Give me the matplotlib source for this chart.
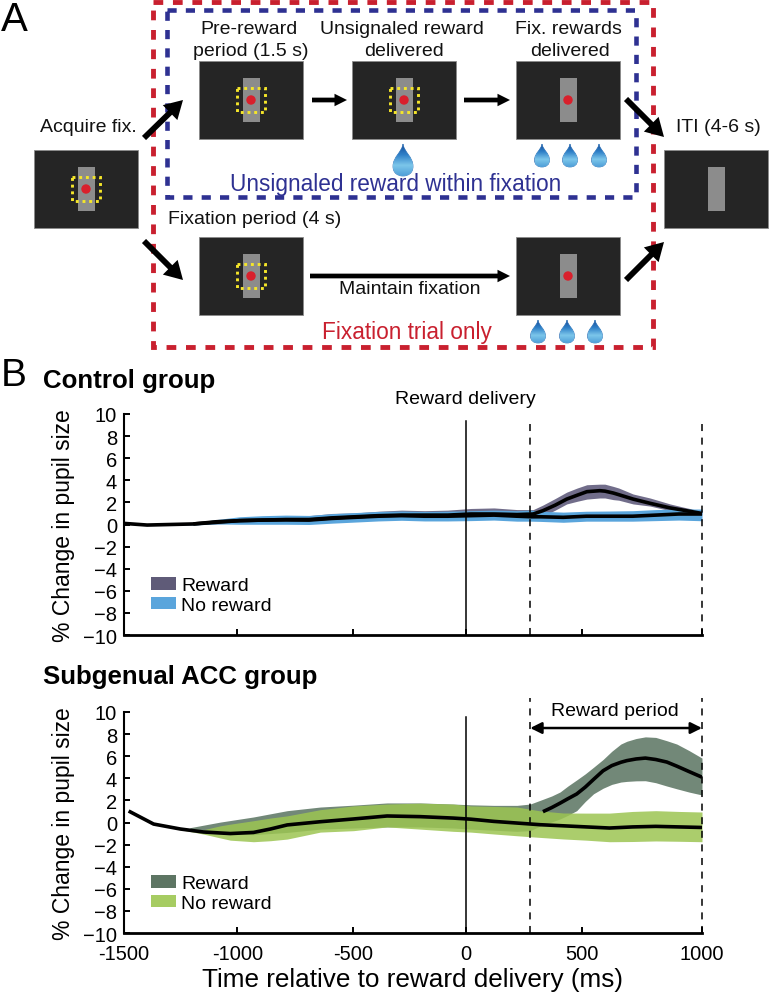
import numpy as np
import matplotlib
matplotlib.use('Agg')
import matplotlib.pyplot as plt
from matplotlib.patches import Rectangle, Circle, Patch, PathPatch
from matplotlib.path import Path
from matplotlib.colors import LinearSegmentedColormap

plt.rcParams['font.family'] = ['Liberation Sans', 'DejaVu Sans']

W, H = 769, 995

# control group, no reward
t_ctrl_nr = [-1500, -1400, -1300, -1200, -1100, -1000, -900, -800, -700, -600, -500, -400, -300, -200, -100,
             0, 100, 200, 260, 300, 400, 500, 600, 700, 800, 900, 1000]
m_ctrl_nr = [0.1, -0.05, 0, 0.05, 0.25, 0.35, 0.4, 0.42, 0.4, 0.55, 0.65, 0.75, 0.8, 0.75, 0.75,
             0.8, 0.85, 0.75, 0.7, 0.7, 0.65, 0.75, 0.75, 0.75, 0.85, 0.95, 0.95]
hi_ctrl_nr = [0.1, -0.03, 0.03, 0.15, 0.45, 0.7, 0.8, 0.85, 0.82, 0.98, 1.08, 1.18, 1.22, 1.18, 1.2,
              1.25, 1.3, 1.25, 1.3, 1.2, 1.12, 1.2, 1.22, 1.25, 1.35, 1.4, 1.4]
lo_ctrl_nr = [0.1, -0.07, -0.03, -0.05, 0.05, 0.02, 0.02, 0.02, 0.0, 0.12, 0.22, 0.32, 0.38, 0.32, 0.32,
              0.35, 0.4, 0.3, 0.3, 0.28, 0.2, 0.3, 0.3, 0.3, 0.35, 0.4, 0.34]

# control group, reward
t_ctrl_r = [-1200, -1100, -1000, -900, -800, -700, -600, -500, -400, -300, -200, -100, 0, 100, 200, 270,
            312, 365, 415, 460, 502, 558, 580, 616, 640, 702, 775, 862, 918, 1000]
m_ctrl_r = [0.05, 0.2, 0.35, 0.4, 0.45, 0.45, 0.6, 0.7, 0.8, 0.85, 0.85, 0.85, 0.95, 0.95, 0.9, 0.95,
            1.25, 1.75, 2.3, 2.65, 2.97, 3.06, 3.02, 2.85, 2.7, 2.3, 1.92, 1.5, 1.3, 1.0]
hi_ctrl_r = [0.1, 0.4, 0.55, 0.65, 0.7, 0.8, 1.0, 1.05, 1.2, 1.3, 1.25, 1.3, 1.45, 1.5, 1.35, 1.35,
             1.76, 2.35, 2.93, 3.3, 3.6, 3.65, 3.65, 3.45, 3.3, 2.76, 2.4, 1.86, 1.58, 1.2]
lo_ctrl_r = [0, 0.05, 0.15, 0.2, 0.2, 0.2, 0.35, 0.4, 0.45, 0.45, 0.45, 0.45, 0.5, 0.5, 0.45, 0.5,
             0.75, 1.3, 1.86, 2.1, 2.3, 2.4, 2.4, 2.25, 2.2, 1.86, 1.67, 1.25, 1.1, 0.85]

# subgenual ACC group, no reward
t_acc_nr = [-1480, -1372, -1256, -1156, -1083, -1040, -940, -867, -794, -651, -507, -362, -219, -76,
            0, 100, 200, 300, 400, 500, 600, 700, 800, 900, 1000]
m_acc_nr = [1.04, -0.14, -0.59, -0.86, -0.95, -1.0, -0.9, -0.59, -0.22, 0.07, 0.32, 0.59, 0.53, 0.4,
            0.3, 0.1, -0.05, -0.2, -0.3, -0.4, -0.5, -0.4, -0.35, -0.4, -0.45]
hi_acc_nr = [1.04, -0.14, -0.55, -0.65, -0.3, -0.15, 0.16, 0.4, 0.6, 1.16, 1.5, 1.67, 1.75, 1.67,
             1.5, 1.45, 1.4, 1.05, 0.86, 0.85, 0.85, 1.0, 1.07, 1.0, 0.95]
lo_acc_nr = [1.04, -0.14, -0.65, -1.05, -1.4, -1.6, -1.74, -1.65, -1.5, -0.87, -0.74, -0.4, -0.6, -0.8,
             -0.87, -1.04, -1.2, -1.35, -1.49, -1.6, -1.74, -1.72, -1.67, -1.7, -1.74]

# subgenual ACC group, reward (line hidden under the no reward band before 312)
t_acc_r = [-1215, -1083, -940, -794, -651, -507, -362, -219, -76, 0, 100, 200, 257,
           312, 350, 386, 420, 458, 495, 531, 572, 610, 649, 675, 715, 755, 800, 848, 891, 945, 1000]
m_acc_r = [np.nan] * 13 + [0.98, 1.35, 1.75, 2.15, 2.58, 3.2, 3.9, 4.68, 5.15, 5.45, 5.6, 5.75, 5.83, 5.7,
                           5.47, 5.1, 4.6, 4.1]
hi_acc_r = [-0.47, 0.04, 0.5, 1.07, 1.4, 1.57, 1.77, 1.77, 1.67, 1.6, 1.55, 1.55, 1.67,
            2.1, 2.4, 2.76, 3.3, 3.85, 4.4, 5.0, 5.7, 6.45, 7.1, 7.35, 7.6, 7.75, 7.7, 7.4, 7.1, 6.5, 5.83]
lo_acc_r = [-0.7, -1.0, -1.1, -0.9, -0.6, -0.5, -0.4, -0.4, -0.5, -0.6, -0.7, -0.8, -0.74,
            -0.2, 0.05, 0.32, 0.65, 1.07, 1.9, 2.6, 3.1, 3.45, 3.66, 3.72, 3.77, 3.78, 3.6, 3.3, 3.05, 2.75, 2.49]

# the ticks are not quite evenly spaced
x_tick_pos = [-1500, -1010, -510, -20, 481, 1000]
x_tick_labels = ['-1500', '-1000', '-500', '0', '500', '1000']
y_ticks = [10, 8, 6, 4, 2, 0, -2, -4, -6, -8, -10]
onset = -20
period_start = 257
period_end = 1000


def px_axes(fig, left, right, top, bottom):
    return fig.add_axes([left / W, 1 - bottom / H, (right - left) / W, (bottom - top) / H])


fig = plt.figure(figsize=(W / 100, H / 100), dpi=100)

# panel A is drawn in pixel coordinates on one big axes
sk = fig.add_axes([0, 0, 1, 1])
sk.set_axis_off()
fig.patch.set_facecolor('white')


def screen(x, y, dot=True, box=True):
    sk.add_patch(Rectangle((x, y), 104, 78, fc='#252525', ec='#8a8a8a', lw=0.6))
    cx, cy = x + 52, y + 39
    sk.add_patch(Rectangle((cx - 8.5, cy - 22), 17, 44, fc='#8c8c8c', ec='none'))
    if dot:
        sk.add_patch(Circle((cx, cy), 4.7, fc='#d9202c', ec='none'))
    if box:
        sk.add_patch(Rectangle((cx - 14, cy - 12), 28, 24, fc='none', ec='#f5e62a', lw=2.1,
                               ls=(0, (1.0, 1.3))))


drop_cmap = LinearSegmentedColormap.from_list('drop', ['#164f9c', '#2f80c8', '#7cc6ea', '#4f9fd8'])


def drop(cx, top, w, h):
    r = w / 2
    verts = [(cx, top),
             (cx + 0.1 * r, top + 0.25 * h), (cx + r, top + 0.4 * h), (cx + r, top + 0.7 * h),
             (cx + r, top + 0.9 * h), (cx + 0.55 * r, top + h), (cx, top + h),
             (cx - 0.55 * r, top + h), (cx - r, top + 0.9 * h), (cx - r, top + 0.7 * h),
             (cx - r, top + 0.4 * h), (cx - 0.1 * r, top + 0.25 * h), (cx, top)]
    codes = [Path.MOVETO] + [Path.CURVE4] * 12
    patch = PathPatch(Path(verts, codes), fc='none', ec='#2a6fb5', lw=0.5)
    sk.add_patch(patch)
    im = sk.imshow(np.linspace(0, 1, 64).reshape(-1, 1), cmap=drop_cmap, aspect='auto',
                   extent=(cx - r, cx + r, top + h, top), zorder=2)
    im.set_clip_path(patch)


for sx, sy, dot, box in [(34, 151, True, True), (199, 62, True, True), (352, 62, True, True),
                         (516, 62, True, False), (199, 238, True, True), (516, 238, True, False),
                         (664, 151, False, False)]:
    screen(sx, sy, dot, box)

drop(403, 145, 20, 32)
for dx in [542, 570, 599]:
    drop(dx, 145, 15, 23)
for dx in [538, 567, 595]:
    drop(dx, 321, 15, 23)

sk.add_patch(Rectangle((153, 3), 500, 345, fc='none', ec='#c9202f', lw=3.5, ls=(0, (2.0, 2.0))))
sk.add_patch(Rectangle((167, 11), 469, 187, fc='none', ec='#2e3192', lw=3.3, ls=(0, (2.0, 2.0))))


def arrow(x0, y0, x1, y1, width=4.2, head=15, length=13):
    sk.annotate('', xy=(x1, y1), xytext=(x0, y0),
                arrowprops=dict(width=width, headwidth=head, headlength=length, fc='black', ec='none',
                                shrink=0), zorder=5)


arrow(144, 139, 183, 101)
arrow(144, 242, 183, 281)
arrow(626, 100, 664, 138)
arrow(626, 281, 664, 243)
arrow(312, 101, 347, 101, width=3.4, head=9, length=9)
arrow(464, 101, 510, 101, width=3.4, head=9, length=9)
arrow(310, 277, 510, 277, width=3.4, head=9, length=9)

txt = dict(ha='center', va='center', fontsize=14, color='#111111')
sk.text(14, 20, 'A', ha='center', va='center', fontsize=29)
sk.text(13.5, 376, 'B', ha='center', va='center', fontsize=28)
sk.text(249, 29, 'Pre-reward', **txt)
sk.text(251, 52, 'period (1.5 s)', **txt)
sk.text(402, 29, 'Unsignaled reward', **txt)
sk.text(404, 52, 'delivered', **txt)
sk.text(568, 29, 'Fix. rewards', **txt)
sk.text(570, 52, 'delivered', **txt)
sk.text(88, 128, 'Acquire fix.', **txt)
sk.text(718, 128, 'ITI (4-6 s)', **txt)
sk.text(255, 219, 'Fixation period (4 s)', **txt)
sk.text(410, 290, 'Maintain fixation', **txt)
sk.text(396, 184, 'Unsignaled reward within fixation', ha='center', va='center', fontsize=16.3, color='#2e3192')
sk.text(407, 332, 'Fixation trial only', ha='center', va='center', fontsize=16.3, color='#c9202f')
sk.text(43, 381, 'Control group', ha='left', va='center', fontsize=18.6, fontweight='bold')
sk.text(43, 677, 'Subgenual ACC group', ha='left', va='center', fontsize=18.6, fontweight='bold')
sk.text(465, 399, 'Reward delivery', ha='center', va='center', fontsize=14)
sk.text(615, 711, 'Reward period', ha='center', va='center', fontsize=14)
sk.set_xlim(0, W)
sk.set_ylim(H, 0)


def panel(ax, t_r, m_r, hi_r, lo_r, t_nr, m_nr, hi_nr, lo_nr, c_r, c_nr, c_leg_r, c_leg_nr, a_nr,
          dash_top, line_top):
    ax.patch.set_alpha(0)
    ax.fill_between(t_r, lo_r, hi_r, color=c_r, lw=0)
    ax.plot(t_r, m_r, color='black', lw=2.6, solid_capstyle='butt')
    ax.fill_between(t_nr, lo_nr, hi_nr, color=c_nr, alpha=a_nr, lw=0)
    ax.plot(t_nr, m_nr, color='black', lw=2.6, solid_capstyle='butt')
    ax.plot([onset, onset], [-10, line_top], color='black', lw=1.1, clip_on=False)
    for xd in [period_start, period_end]:
        ax.plot([xd, xd], [-10, dash_top], color='black', lw=1.1, ls=(0, (4.6, 4.3)), clip_on=False)
    ax.set_xlim(-1500, 1000)
    ax.set_ylim(-10, 10)
    ax.set_yticks(y_ticks)
    ax.set_xticks(x_tick_pos)
    ax.tick_params(direction='in', length=4, width=1.4, labelsize=14.5, pad=8)
    ax.tick_params(axis='y', pad=5)
    ax.spines[['top', 'right']].set_visible(False)
    ax.spines['left'].set_linewidth(1.5)
    ax.spines['bottom'].set_linewidth(2.0)
    ax.set_ylabel('% Change in pupil size', fontsize=16.5, labelpad=0)
    ax.yaxis.set_label_coords(-0.084, 0.5)
    ax.legend(handles=[Patch(fc=c_leg_r, label='Reward'), Patch(fc=c_leg_nr, label='No reward')],
              loc='lower left', bbox_to_anchor=(0.046, 0.096), frameon=False, fontsize=14,
              handlelength=1.33, handleheight=0.62, handletextpad=0.25, labelspacing=0.12,
              borderaxespad=0, borderpad=0)


ax1 = px_axes(fig, 124, 702, 415, 636)
panel(ax1, t_ctrl_r, m_ctrl_r, hi_ctrl_r, lo_ctrl_r, t_ctrl_nr, m_ctrl_nr, hi_ctrl_nr, lo_ctrl_nr,
      '#716d8a', '#5aa5dc', '#5f5b78', '#5aa5dc', 1.0, 9.55, 9.4)
ax1.set_xticklabels([])

ax2 = px_axes(fig, 124, 702, 713, 934)
panel(ax2, t_acc_r, m_acc_r, hi_acc_r, lo_acc_r, t_acc_nr, m_acc_nr, hi_acc_nr, lo_acc_nr,
      '#728878', '#9cc552', '#5d7563', '#a6cc62', 0.85, 11.3, 9.55)
ax2.set_xticklabels(x_tick_labels)
ax2.set_xlabel('Time relative to reward delivery (ms)', fontsize=18.8, labelpad=3)
ax2.annotate('', xy=(period_start, 8.55), xytext=(period_end, 8.55),
             arrowprops=dict(arrowstyle='<|-|>', color='black', lw=1.8, mutation_scale=17,
                             shrinkA=0, shrinkB=0))

fig.savefig('out.png', dpi=100)
